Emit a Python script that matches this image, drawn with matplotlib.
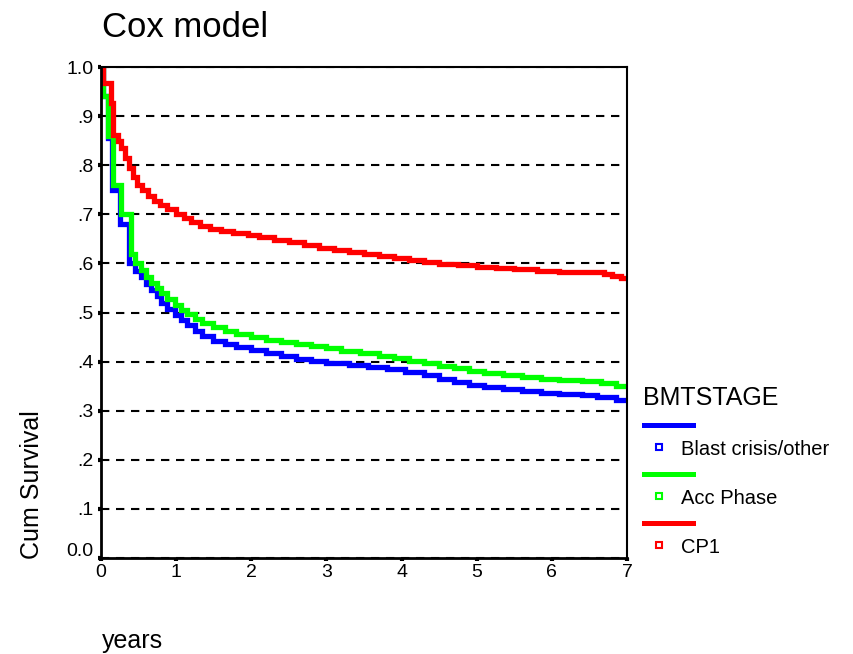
import matplotlib
matplotlib.use("Agg")

import matplotlib.pyplot as plt
from matplotlib.lines import Line2D
from matplotlib.transforms import ScaledTranslation

plt.rcParams['font.family'] = ['Liberation Sans', 'DejaVu Sans']

# -----------------------
# SURVIVAL CURVES (step times in years, cumulative survival)
# -----------------------
stages = ["Blast crisis/other", "Acc Phase", "CP1"]
colors = ["#0000ff", "#00ff00", "#ff0000"]

blast_t = [0, 0.02, 0.09, 0.15, 0.25, 0.37, 0.45, 0.53, 0.60, 0.67, 0.74, 0.80,
           0.88, 0.99, 1.06, 1.15, 1.25, 1.35, 1.49, 1.65, 1.80, 2.00, 2.20,
           2.40, 2.60, 2.80, 3.00, 3.30, 3.55, 3.80, 4.05, 4.30, 4.50, 4.70,
           4.90, 5.10, 5.35, 5.60, 5.85, 6.10, 6.40, 6.60, 6.85, 7.0]
blast_s = [1.0, 0.94, 0.855, 0.75, 0.68, 0.60, 0.585, 0.572, 0.558, 0.546,
           0.533, 0.52, 0.508, 0.495, 0.485, 0.475, 0.462, 0.452, 0.442, 0.435,
           0.43, 0.424, 0.418, 0.412, 0.406, 0.401, 0.398, 0.394, 0.389, 0.384,
           0.378, 0.372, 0.365, 0.358, 0.352, 0.348, 0.344, 0.34, 0.337, 0.335,
           0.332, 0.328, 0.322, 0.322]

acc_t = [0, 0.02, 0.09, 0.16, 0.27, 0.40, 0.45, 0.53, 0.60, 0.67, 0.74, 0.80,
         0.88, 0.99, 1.06, 1.15, 1.25, 1.35, 1.49, 1.65, 1.80, 2.00, 2.20,
         2.40, 2.60, 2.80, 3.00, 3.20, 3.45, 3.70, 3.90, 4.10, 4.30, 4.50,
         4.70, 4.90, 5.10, 5.35, 5.60, 5.85, 6.10, 6.40, 6.65, 6.85, 7.0]
acc_s = [1.0, 0.94, 0.86, 0.76, 0.70, 0.62, 0.60, 0.587, 0.572, 0.56, 0.55,
         0.54, 0.527, 0.515, 0.505, 0.497, 0.487, 0.478, 0.47, 0.462, 0.457,
         0.451, 0.445, 0.44, 0.436, 0.432, 0.427, 0.422, 0.417, 0.412, 0.407,
         0.402, 0.397, 0.392, 0.386, 0.381, 0.376, 0.372, 0.368, 0.364, 0.362,
         0.36, 0.357, 0.35, 0.35]

cp1_t = [0, 0.03, 0.13, 0.16, 0.22, 0.27, 0.32, 0.37, 0.42, 0.48, 0.55, 0.62,
         0.70, 0.78, 0.88, 1.00, 1.10, 1.20, 1.32, 1.45, 1.60, 1.75, 1.95,
         2.10, 2.30, 2.50, 2.70, 2.90, 3.10, 3.30, 3.50, 3.70, 3.90, 4.10,
         4.30, 4.50, 4.75, 5.00, 5.25, 5.50, 5.80, 6.10, 6.70, 6.80, 6.92, 7.0]
cp1_s = [1.0, 0.967, 0.927, 0.862, 0.85, 0.835, 0.815, 0.795, 0.776, 0.76,
         0.75, 0.738, 0.728, 0.718, 0.71, 0.70, 0.692, 0.684, 0.676, 0.67,
         0.665, 0.661, 0.658, 0.653, 0.648, 0.643, 0.638, 0.632, 0.627, 0.623,
         0.62, 0.615, 0.611, 0.606, 0.602, 0.599, 0.596, 0.593, 0.591, 0.588,
         0.585, 0.583, 0.578, 0.575, 0.57, 0.57]

curves = [(blast_t, blast_s), (acc_t, acc_s), (cp1_t, cp1_s)]

x_ticks = [0, 1, 2, 3, 4, 5, 6, 7]
y_ticks = [0.0, 0.1, 0.2, 0.3, 0.4, 0.5, 0.6, 0.7, 0.8, 0.9, 1.0]
y_labels = ["0.0", ".1", ".2", ".3", ".4", ".5", ".6", ".7", ".8", ".9", "1.0"]

# -----------------------
# FIGURE
# -----------------------
W, H = 854, 654
fig = plt.figure(figsize=(W / 100, H / 100), dpi=100)


def fx(px):
    return px / W


def fy(py):
    return 1 - py / H


ax = fig.add_axes([fx(101), fy(558), fx(627) - fx(101), fy(67) - fy(558)])

for (t, s), c in zip(curves, colors):
    ax.step(t, s, where="post", color=c, lw=3.8, solid_joinstyle="miter", zorder=2)

ax.set_xlim(0, 7)
ax.set_ylim(0, 1)
ax.set_xticks(x_ticks)
ax.set_yticks(y_ticks)
ax.set_yticklabels(y_labels)

ax.yaxis.grid(True, color="black", lw=1.5, linestyle=(0, (4, 3.2)))
ax.set_axisbelow(True)

for side in ["left", "bottom"]:
    ax.spines[side].set_linewidth(2.0)
for side in ["top", "right"]:
    ax.spines[side].set_linewidth(1.5)
for sp in ax.spines.values():
    sp.set_zorder(3)

ax.tick_params(axis="both", direction="out", length=2.5, width=3, labelsize=14,
               color="black")
ax.tick_params(axis="y", pad=3)
ax.tick_params(axis="x", pad=2)

# the 0.0 label sits a little above its tick
zero_lbl = ax.get_yticklabels()[0]
zero_lbl.set_transform(zero_lbl.get_transform() +
                       ScaledTranslation(0, 9 / 100, fig.dpi_scale_trans))

# -----------------------
# TEXT
# -----------------------
fig.text(fx(102), fy(37), "Cox model", fontsize=25, ha="left", va="baseline")
fig.text(fx(32), fy(485), "Cum Survival", fontsize=18, rotation=90,
         ha="center", va="center")
fig.text(fx(102), fy(648), "years", fontsize=18, ha="left", va="baseline")

# -----------------------
# LEGEND
# -----------------------
fig.text(fx(643), fy(405), "BMTSTAGE", fontsize=18, ha="left", va="baseline")
line_y = [425, 474, 523]
for i, (name, c) in enumerate(zip(stages, colors)):
    ly = line_y[i]
    fig.add_artist(Line2D([fx(644), fx(693)], [fy(ly), fy(ly)], color=c, lw=3.6,
                          transform=fig.transFigure))
    fig.add_artist(Line2D([fx(659)], [fy(ly + 22)], marker="s", markersize=5,
                          markerfacecolor="white", markeredgecolor=c,
                          markeredgewidth=1.5, linestyle="none",
                          transform=fig.transFigure))
    fig.text(fx(681), fy(ly + 30), name, fontsize=14.5, ha="left", va="baseline")

plt.savefig("out.png", dpi=100)
plt.close()
